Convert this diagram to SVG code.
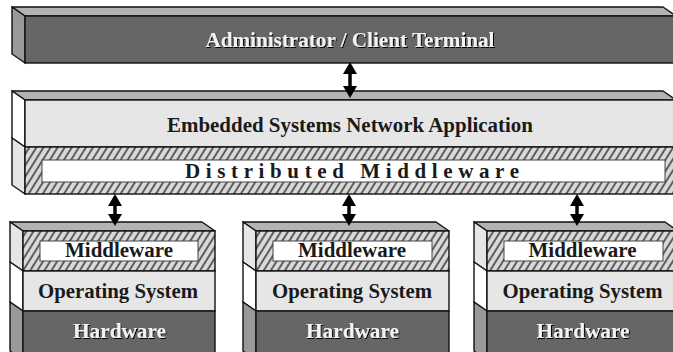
<svg xmlns="http://www.w3.org/2000/svg" width="673" height="352" viewBox="0 0 673 352">
<style>
.top{fill:#b3b3b3;stroke:#111;stroke-width:1.4;stroke-linejoin:round}
.dark{fill:#666;stroke:#111;stroke-width:1.4}
.darkside{fill:#999;stroke:#111;stroke-width:1.4}
.light{fill:#e6e6e6;stroke:#111;stroke-width:1.4}
.white{fill:#fff;stroke:#111;stroke-width:1.4}
.hatch{fill:url(#hatch);stroke:#111;stroke-width:1.4}
.inner{fill:#fff;stroke:#444;stroke-width:1}
.lbl{font-family:"Liberation Serif","Times New Roman",serif;font-weight:bold;font-size:20px;fill:#1a1a1a;text-anchor:middle}
.wlbl{font-family:"Liberation Serif","Times New Roman",serif;font-weight:bold;font-size:20px;fill:#f2f2f2;text-anchor:middle;filter:url(#shadow)}
.conn{stroke:#000;stroke-width:3.5;fill:none;marker-start:url(#ah);marker-end:url(#ah)}
</style>
<defs>
<pattern id="hatch" patternUnits="userSpaceOnUse" width="6" height="6" patternTransform="rotate(32)">
<rect width="6" height="6" fill="#d9d9d9"/>
<line x1="1" y1="0" x2="1" y2="6" stroke="#2a2a2a" stroke-width="1.4"/>
</pattern>
<filter id="shadow" x="-5%" y="-20%" width="110%" height="140%">
<feDropShadow dx="1" dy="1" stdDeviation="0.4" flood-color="#000" flood-opacity="1"/>
</filter>
<marker id="ah" markerUnits="userSpaceOnUse" viewBox="0 0 12 14" markerWidth="12" markerHeight="14" refX="6" refY="7" orient="auto-start-reverse">
<path d="M0,0 L12,7 L0,14 z" fill="#000"/>
</marker>
</defs>

<g id="node-admin">
<polygon class="top" points="12,7 663,7 676,16 25,16"/>
<polygon class="darkside" points="12,7 25,16 25,63 12,54"/>
<rect class="dark" x="25" y="16" width="651" height="47"/>
<text class="wlbl" x="350" y="47" textLength="289" lengthAdjust="spacingAndGlyphs">Administrator / Client Terminal</text>
</g>

<g id="node-app">
<polygon class="top" points="12,91 663,91 676,100 25,100"/>
<polygon class="white" points="12,91 25,100 25,147 12,138"/>
<rect class="light" x="25" y="100" width="651" height="47"/>
<text class="lbl" x="350" y="132" textLength="366" lengthAdjust="spacingAndGlyphs">Embedded Systems Network Application</text>
</g>

<g id="node-distributed-middleware">
<polygon class="light" points="12,138 25,147 25,194 12,185"/>
<rect class="hatch" x="25" y="147" width="651" height="47"/>
<rect class="inner" x="42" y="160" width="623" height="22"/>
<text class="lbl" x="352" y="178" textLength="334" lengthAdjust="spacing" style="font-size:21px">Distributed Middleware</text>
</g>

<g id="node-host1">
<polygon class="top" points="10,222 202,222 215,231 23,231"/>
<polygon class="light" points="10,222 23,231 23,271 10,262"/>
<polygon class="white" points="10,262 23,271 23,311 10,302"/>
<polygon class="darkside" points="10,302 23,311 23,360 10,351"/>
<rect class="hatch" x="23" y="231" width="192" height="40"/>
<rect class="inner" x="40" y="241" width="158" height="20"/>
<rect class="light" x="23" y="271" width="192" height="40"/>
<rect class="dark" x="23" y="311" width="192" height="50"/>
<text class="lbl" x="119" y="257" textLength="108" lengthAdjust="spacingAndGlyphs">Middleware</text>
<text class="lbl" x="118" y="298" textLength="160" lengthAdjust="spacingAndGlyphs">Operating System</text>
<text class="wlbl" x="119.5" y="338" textLength="93" lengthAdjust="spacingAndGlyphs">Hardware</text>
</g>

<g id="node-host2">
<polygon class="top" points="243,222 436,222 449,231 256,231"/>
<polygon class="light" points="243,222 256,231 256,271 243,262"/>
<polygon class="white" points="243,262 256,271 256,311 243,302"/>
<polygon class="darkside" points="243,302 256,311 256,360 243,351"/>
<rect class="hatch" x="256" y="231" width="193" height="40"/>
<rect class="inner" x="273" y="241" width="159" height="20"/>
<rect class="light" x="256" y="271" width="193" height="40"/>
<rect class="dark" x="256" y="311" width="193" height="50"/>
<text class="lbl" x="352" y="257" textLength="108" lengthAdjust="spacingAndGlyphs">Middleware</text>
<text class="lbl" x="352" y="298" textLength="160" lengthAdjust="spacingAndGlyphs">Operating System</text>
<text class="wlbl" x="352.5" y="338" textLength="93" lengthAdjust="spacingAndGlyphs">Hardware</text>
</g>

<g id="node-host3">
<polygon class="top" points="474,222 665,222 678,231 487,231"/>
<polygon class="light" points="474,222 487,231 487,271 474,262"/>
<polygon class="white" points="474,262 487,271 487,311 474,302"/>
<polygon class="darkside" points="474,302 487,311 487,360 474,351"/>
<rect class="hatch" x="487" y="231" width="191" height="40"/>
<rect class="inner" x="504" y="241" width="159" height="20"/>
<rect class="light" x="487" y="271" width="191" height="40"/>
<rect class="dark" x="487" y="311" width="191" height="50"/>
<text class="lbl" x="582.5" y="257" textLength="108" lengthAdjust="spacingAndGlyphs">Middleware</text>
<text class="lbl" x="582.5" y="298" textLength="160" lengthAdjust="spacingAndGlyphs">Operating System</text>
<text class="wlbl" x="583" y="338" textLength="93" lengthAdjust="spacingAndGlyphs">Hardware</text>
</g>

<g id="connectors">
<line class="conn" x1="350" y1="68" x2="350" y2="92"/>
<line class="conn" x1="115" y1="200" x2="115" y2="220"/>
<line class="conn" x1="349" y1="200" x2="349" y2="220"/>
<line class="conn" x1="577" y1="200" x2="577" y2="220"/>
</g>
</svg>
